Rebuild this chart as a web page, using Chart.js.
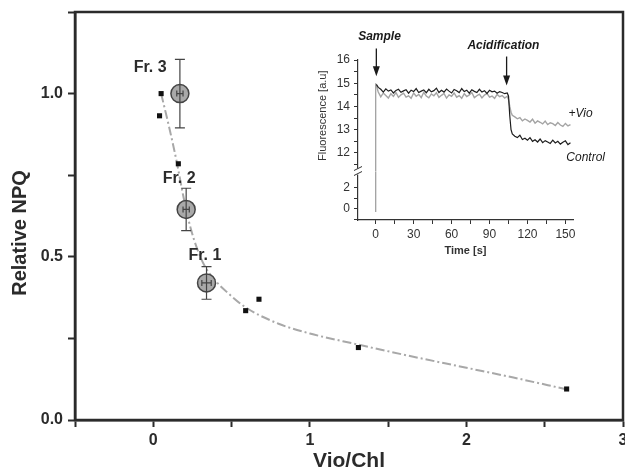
<!DOCTYPE html>
<html>
<head>
<meta charset="utf-8">
<script src="https://cdn.jsdelivr.net/npm/chart.js@4/dist/chart.umd.min.js"></script>
<style>
  body { margin: 0; background: #fff; }
  #wrap { position: relative; width: 625px; height: 474px; }
  #inset { position: absolute; left: 295px; top: 0; }
</style>
</head>
<body>
<div id="wrap">
  <canvas id="main" width="625" height="474"></canvas>
  <canvas id="inset" width="320" height="262"></canvas>
</div>
<script>
// main plot data
const vioChl = [0.05, 0.04, 0.16, 0.59, 0.675, 1.31, 2.64];
const npq = [1.0, 0.932, 0.785, 0.335, 0.37, 0.222, 0.095];

const fitX = [0.05, 0.1, 0.15, 0.19, 0.21, 0.24, 0.28, 0.33, 0.4, 0.47, 0.59, 0.8, 1.0, 1.3, 1.6, 2.0, 2.3, 2.63];
const fitY = [1.0, 0.9, 0.79, 0.69, 0.645, 0.585, 0.525, 0.47, 0.425, 0.392, 0.345, 0.295, 0.265, 0.232, 0.2, 0.16, 0.13, 0.095];

const fracNames = ['Fr. 1', 'Fr. 2', 'Fr. 3'];
const fracX = [0.34, 0.21, 0.17];
const fracY = [0.42, 0.645, 1.0];
const fracYErr = [0.05, 0.065, 0.105];
const fracXErr = [0.03, 0.02, 0.02];
const fracLabelX = [0.33, 0.165, -0.02];
const fracLabelY = [0.505, 0.74, 1.08];

// inset data
const timeS = [0.5, 2, 4, 6, 8, 10, 12, 14, 16, 18, 20, 22, 24, 26, 28, 30, 32, 34, 36, 38, 40,
  42, 44, 46, 48, 50, 52, 54, 56, 58, 60, 62, 64, 66, 68, 70, 72, 74, 76, 78, 80,
  82, 84, 86, 88, 90, 92, 94, 96, 98, 100, 102, 104, 105, 106, 107, 108,
  110, 112, 114, 116, 118, 120, 122, 124, 126, 128, 130, 132, 134, 136, 138, 140,
  142, 144, 146, 148, 150, 152, 154];
const control = [14.95, 14.82, 14.74, 14.62, 14.76, 14.66, 14.71, 14.58, 14.69, 14.74, 14.61,
  14.67, 14.72, 14.57, 14.7, 14.64, 14.77, 14.6, 14.66, 14.71, 14.59,
  14.74, 14.63, 14.68, 14.79, 14.6, 14.7, 14.62, 14.75, 14.66, 14.58,
  14.73, 14.68, 14.6, 14.77, 14.64, 14.7, 14.57, 14.72, 14.65, 14.6,
  14.74, 14.62, 14.68, 14.56, 14.7, 14.63, 14.66, 14.57, 14.64, 14.6,
  14.55, 14.58, 14.45, 13.6, 13.0, 12.82,
  12.72, 12.66, 12.76, 12.58, 12.63, 12.55, 12.66, 12.5, 12.57, 12.47, 12.6, 12.44,
  12.53, 12.47, 12.41, 12.55, 12.43, 12.5, 12.38, 12.46, 12.52, 12.36, 12.44];
const plusVio = [14.9, 14.62, 14.41, 14.58, 14.47, 14.36, 14.55, 14.43, 14.6, 14.39, 14.5,
  14.57, 14.4, 14.46, 14.35, 14.58, 14.44, 14.52, 14.38, 14.61, 14.45,
  14.37, 14.54, 14.46, 14.59, 14.39, 14.48, 14.56, 14.36, 14.5, 14.44,
  14.58, 14.4, 14.47, 14.35, 14.55, 14.43, 14.5, 14.6, 14.38, 14.46,
  14.53, 14.37, 14.49, 14.56, 14.4, 14.45, 14.35, 14.52, 14.42, 14.47,
  14.36, 14.44, 14.3, 14.0, 13.75, 13.62,
  13.55, 13.47, 13.52, 13.38, 13.46, 13.4, 13.33, 13.45, 13.28, 13.38, 13.32, 13.25,
  13.37, 13.22, 13.3, 13.26, 13.18, 13.31, 13.2, 13.14, 13.27, 13.16, 13.22];
// injection spike, split over the broken axis
const spikeUpper = [11.2, 15.0];
const spikeLower = [-0.3, 3.6];

const noteText = ['Sample', 'Acidification', '+Vio', 'Control'];
const noteT = [3, 101, 162, 166];
const noteV = [17.0, 16.6, 13.7, 11.8];
const arrowT = [0.5, 103.5];
const arrowFrom = [16.5, 16.15];
const arrowTo = [15.3, 14.9];

const FONT = "'Liberation Sans', Arial, sans-serif";
const INK = '#2b2b2b';

function pts(xs, ys) {
    return xs.map((x, i) => ({ x: x, y: ys[i] }));
}

// draws frame, error bars, fraction labels and the y title on the main plot
const mainDeco = {
    id: 'mainDeco',
    afterDatasetsDraw(chart) {
        const ctx = chart.ctx, xs = chart.scales.x, ys = chart.scales.y;
        ctx.save();
        ctx.strokeStyle = '#444';
        ctx.lineWidth = 1.2;
        fracX.forEach((v, i) => {
            const px = xs.getPixelForValue(v);
            const top = ys.getPixelForValue(fracY[i] + fracYErr[i]);
            const bot = ys.getPixelForValue(fracY[i] - fracYErr[i]);
            const py = ys.getPixelForValue(fracY[i]);
            const l = xs.getPixelForValue(v - fracXErr[i]);
            const r = xs.getPixelForValue(v + fracXErr[i]);
            ctx.beginPath();
            ctx.moveTo(px, top); ctx.lineTo(px, bot);
            ctx.moveTo(px - 5, top); ctx.lineTo(px + 5, top);
            ctx.moveTo(px - 5, bot); ctx.lineTo(px + 5, bot);
            ctx.moveTo(l, py); ctx.lineTo(r, py);
            ctx.moveTo(l, py - 3); ctx.lineTo(l, py + 3);
            ctx.moveTo(r, py - 3); ctx.lineTo(r, py + 3);
            ctx.stroke();
        });
        ctx.fillStyle = INK;
        ctx.font = 'bold 16px ' + FONT;
        ctx.textAlign = 'center';
        ctx.textBaseline = 'middle';
        fracNames.forEach((n, i) => {
            ctx.fillText(n, xs.getPixelForValue(fracLabelX[i]), ys.getPixelForValue(fracLabelY[i]));
        });
        ctx.restore();
    },
    afterDraw(chart) {
        const a = chart.chartArea, ctx = chart.ctx;
        ctx.save();
        ctx.strokeStyle = INK;
        ctx.lineWidth = 2.5;
        ctx.strokeRect(a.left, a.top, a.right - a.left, a.bottom - a.top);
        // y title sits a bit below the axis centre in the original
        ctx.translate(20, 233);
        ctx.rotate(-Math.PI / 2);
        ctx.fillStyle = INK;
        ctx.font = 'bold 20px ' + FONT;
        ctx.textAlign = 'center';
        ctx.textBaseline = 'middle';
        ctx.fillText('Relative NPQ', 0, 0);
        ctx.restore();
    }
};

new Chart(document.getElementById('main'), {
    data: {
        datasets: [
            {
                type: 'scatter', label: 'fractions', data: pts(fracX, fracY),
                pointRadius: 9, pointBackgroundColor: '#a9a9a9', pointBorderColor: '#444', pointBorderWidth: 1.5
            },
            {
                type: 'scatter', label: 'samples', data: pts(vioChl, npq),
                pointStyle: 'rect', pointRadius: 3.6, pointBackgroundColor: '#111', pointBorderColor: '#111', pointBorderWidth: 0
            },
            {
                type: 'line', label: 'fit', data: pts(fitX, fitY),
                borderColor: '#a8a8a8', borderWidth: 2, borderDash: [9, 3, 2, 3],
                pointRadius: 0, cubicInterpolationMode: 'monotone', fill: false
            }
        ]
    },
    options: {
        responsive: false,
        animation: false,
        events: [],
        layout: { autoPadding: false, padding: { top: 12, right: 2, left: 0, bottom: 0 } },
        plugins: { legend: { display: false }, tooltip: { enabled: false } },
        scales: {
            x: {
                type: 'linear', min: -0.5, max: 3,
                ticks: {
                    stepSize: 0.5, padding: 4, color: INK, font: { family: FONT, size: 16, weight: 'bold' },
                    maxRotation: 0, autoSkip: false,
                    callback: v => Number.isInteger(v) ? String(v) : ''
                },
                grid: { drawOnChartArea: false, tickLength: 7, tickWidth: 2, tickColor: INK },
                border: { color: INK, width: 2.5 },
                title: { display: true, text: 'Vio/Chl', color: INK, font: { family: FONT, size: 21, weight: 'bold' }, padding: { top: 0, bottom: 0 } },
                afterFit: s => { s.height = 54; s.paddingLeft = 0; s.paddingRight = 0; }
            },
            y: {
                type: 'linear', min: 0, max: 1.25,
                ticks: {
                    stepSize: 0.25, padding: 5, color: INK, font: { family: FONT, size: 16, weight: 'bold' },
                    autoSkip: false,
                    callback: v => (Math.abs(v * 2 - Math.round(v * 2)) < 1e-6 && v <= 1) ? v.toFixed(1) : ''
                },
                grid: { drawOnChartArea: false, tickLength: 7, tickWidth: 2, tickColor: INK },
                border: { color: INK, width: 2.5 },
                afterFit: s => { s.width = 75; s.paddingTop = 0; s.paddingBottom = 0; }
            }
        }
    },
    plugins: [mainDeco]
});

// arrows, notes and axis break on the inset
const insetDeco = {
    id: 'insetDeco',
    afterDraw(chart) {
        const ctx = chart.ctx, xs = chart.scales.x, ys = chart.scales.yUp;
        ctx.save();
        ctx.fillStyle = '#1a1a1a';
        ctx.strokeStyle = '#1a1a1a';
        ctx.lineWidth = 1.3;
        arrowT.forEach((t, i) => {
            const px = xs.getPixelForValue(t);
            const y0 = ys.getPixelForValue(arrowFrom[i]);
            const y1 = ys.getPixelForValue(arrowTo[i]);
            ctx.beginPath();
            ctx.moveTo(px, y0); ctx.lineTo(px, y1 - 8);
            ctx.stroke();
            ctx.beginPath();
            ctx.moveTo(px, y1); ctx.lineTo(px - 3.5, y1 - 10); ctx.lineTo(px + 3.5, y1 - 10);
            ctx.closePath();
            ctx.fill();
        });
        ctx.textAlign = 'center';
        ctx.textBaseline = 'middle';
        noteText.forEach((n, i) => {
            ctx.font = (i < 2 ? 'italic bold 12px ' : 'italic 12px ') + FONT;
            ctx.fillText(n, xs.getPixelForValue(noteT[i]), ys.getPixelForValue(noteV[i]));
        });
        // break mark on the y axis
        const bx = xs.left, by = ys.bottom;
        ctx.fillStyle = '#fff';
        ctx.fillRect(bx - 2, by - 3, 4, 6);
        ctx.strokeStyle = '#333';
        ctx.lineWidth = 1;
        ctx.beginPath();
        ctx.moveTo(bx - 4, by - 1); ctx.lineTo(bx + 4, by - 5);
        ctx.moveTo(bx - 4, by + 4); ctx.lineTo(bx + 4, by);
        ctx.stroke();
        ctx.restore();
    }
};

const tickFont = { family: FONT, size: 12 };
new Chart(document.getElementById('inset'), {
    type: 'line',
    data: {
        datasets: [
            { label: 'Control', data: pts(timeS, control), yAxisID: 'yUp', borderColor: '#1e1e1e', borderWidth: 1.2, pointRadius: 0, tension: 0 },
            { label: '+Vio', data: pts(timeS, plusVio), yAxisID: 'yUp', borderColor: '#a4a4a4', borderWidth: 1.4, pointRadius: 0, tension: 0 },
            { label: 'spike', data: pts([0, 0], spikeUpper), yAxisID: 'yUp', borderColor: '#9a9a9a', borderWidth: 1.2, pointRadius: 0 },
            { label: 'spike0', data: pts([0, 0], spikeLower), yAxisID: 'yLow', borderColor: '#9a9a9a', borderWidth: 1.2, pointRadius: 0 }
        ]
    },
    options: {
        responsive: false,
        animation: false,
        events: [],
        layout: { autoPadding: false, padding: { top: 60, right: 42, left: 0, bottom: 0 } },
        plugins: { legend: { display: false }, tooltip: { enabled: false } },
        scales: {
            x: {
                type: 'linear', min: -14, max: 156,
                ticks: {
                    stepSize: 15, includeBounds: false, padding: 3, color: '#333', font: tickFont, maxRotation: 0, autoSkip: false,
                    callback: v => v % 30 === 0 ? String(v) : ''
                },
                grid: { drawOnChartArea: false, tickLength: 4, tickColor: '#333' },
                border: { color: '#333', width: 1.2 },
                title: { display: true, text: 'Time [s]', color: '#333', font: { family: FONT, size: 11, weight: 'bold' }, padding: { top: 2 } },
                afterFit: s => { s.height = 42; s.paddingLeft = 0; s.paddingRight = 0; }
            },
            yLow: {
                type: 'linear', position: 'left', stack: 'fluo', stackWeight: 1,
                min: -1.05, max: 3.56,
                ticks: {
                    stepSize: 1, includeBounds: false, padding: 4, color: '#333', font: tickFont, autoSkip: false,
                    callback: v => (Math.round(v) === 0 || Math.round(v) === 2) ? String(Math.round(v)) : ''
                },
                grid: {
                    drawOnChartArea: false, tickLength: 4,
                    tickColor: c => (c.tick && c.tick.value >= 3) ? 'rgba(0,0,0,0)' : '#333'
                },
                border: { color: '#333', width: 1.2 },
                afterFit: s => { s.width = 63; s.paddingTop = 0; s.paddingBottom = 0; }
            },
            yUp: {
                type: 'linear', position: 'left', stack: 'fluo', stackWeight: 2.3,
                min: 11.2, max: 16,
                ticks: {
                    stepSize: 0.5, includeBounds: false, padding: 4, color: '#333', font: tickFont, autoSkip: false,
                    callback: v => (Math.abs(v - Math.round(v)) < 1e-6 && v >= 12) ? String(Math.round(v)) : ''
                },
                grid: { drawOnChartArea: false, tickLength: 4, tickColor: '#333' },
                border: { color: '#333', width: 1.2 },
                title: { display: true, text: 'Fluorescence [a.u]', color: '#333', font: { family: FONT, size: 11 }, padding: { top: 21, bottom: 0 } },
                afterFit: s => { s.width = 63; s.paddingTop = 0; s.paddingBottom = 0; }
            }
        }
    },
    plugins: [insetDeco]
});
</script>
</body>
</html>
